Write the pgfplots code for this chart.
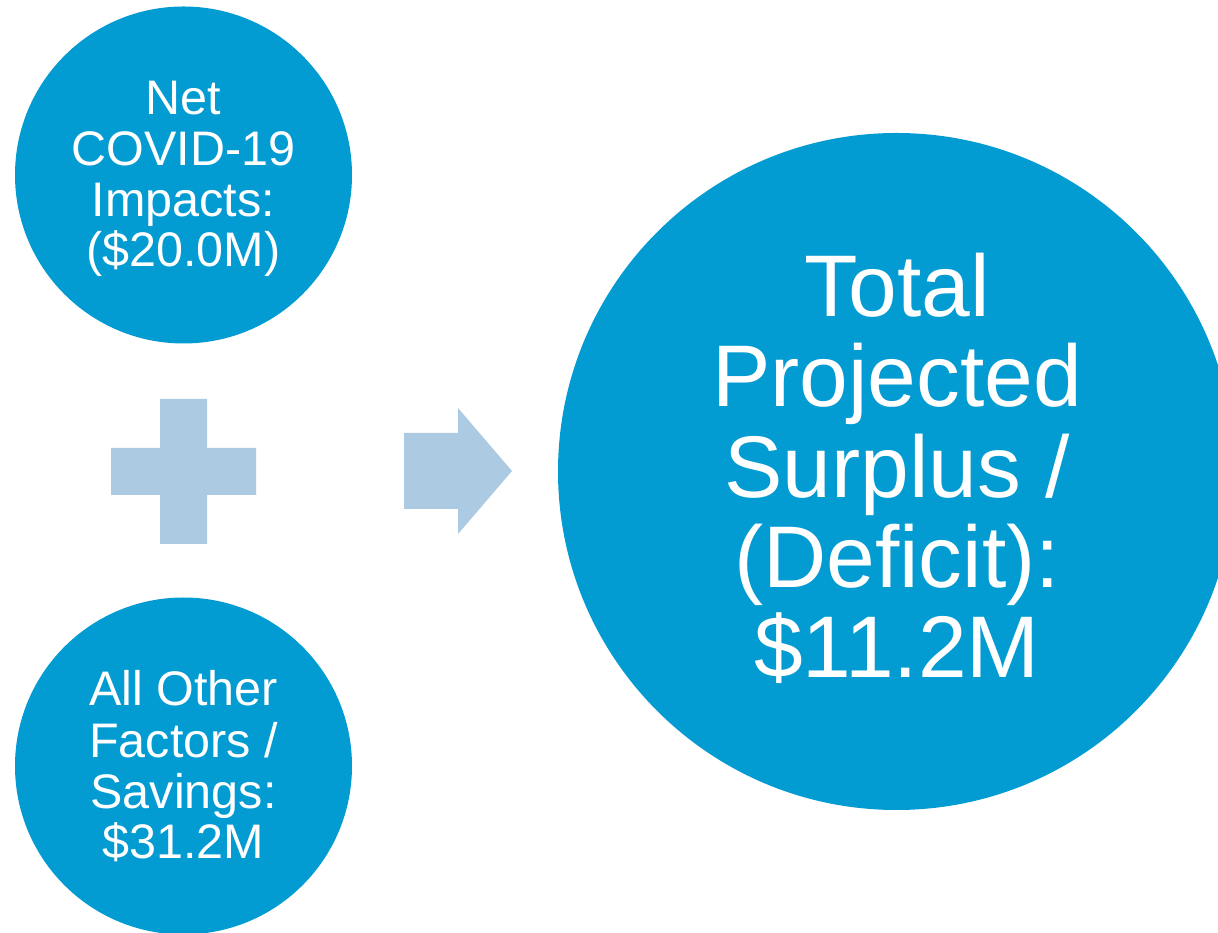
\documentclass[border=0pt]{standalone}
\usepackage{fontspec}
\setmainfont{Liberation Sans}
\usepackage{pgfplots}
\pgfplotsset{compat=1.18}
\definecolor{circ}{RGB}{2,155,210}
\definecolor{lblue}{RGB}{172,203,227}
\begin{document}
\begin{tikzpicture}
\begin{axis}[
  scale only axis, width=12.18cm, height=9.32cm,
  xmin=0, xmax=1218, ymin=0, ymax=932,
  hide axis, clip=true,
]
% plus sign
\addplot[fill=lblue, draw=none] coordinates {(160,533) (207,533) (207,484) (256,484) (256,437) (207,437) (207,388) (160,388) (160,437) (111,437) (111,484) (160,484)} --cycle;
% arrow
\addplot[fill=lblue, draw=none] coordinates {(404,499) (458,499) (458,524) (512,461) (458,398) (458,423) (404,423)} --cycle;
\begin{scope}
\clip (axis cs:0,0) rectangle (axis cs:1218,932);
\fill[circ] (axis cs:183.5,757) circle [radius=16.85mm];
\fill[circ] (axis cs:183.5,166) circle [radius=16.85mm];
\fill[circ] (axis cs:896.5,460.5) circle [radius=33.85mm];
\end{scope}
% texts
\begin{scope}[every node/.style={text=white, inner sep=0pt, anchor=base, font=\fontsize{13.8}{14.4}\selectfont}]
\node at (axis cs:183.5,817) {Net};
\node at (axis cs:183.5,766) {COVID-19};
\node at (axis cs:183.5,715) {Impacts:};
\node at (axis cs:183.5,665) {(\$20.0M)};
\node at (axis cs:183.5,226) {All Other};
\node at (axis cs:183.5,175) {Factors /};
\node at (axis cs:183.5,124) {Savings:};
\node at (axis cs:183.5,74) {\$31.2M};
\end{scope}
\begin{scope}[every node/.style={text=white, inner sep=0pt, anchor=base, font=\fontsize{24.9}{25.6}\selectfont}]
\node at (axis cs:897,615) {Total};
\node at (axis cs:897,525) {Projected};
\node at (axis cs:897,434) {Surplus /};
\node at (axis cs:897,344) {(Deficit):};
\node at (axis cs:897,254) {\$11.2M};
\end{scope}
\end{axis}
\end{tikzpicture}
\end{document}
